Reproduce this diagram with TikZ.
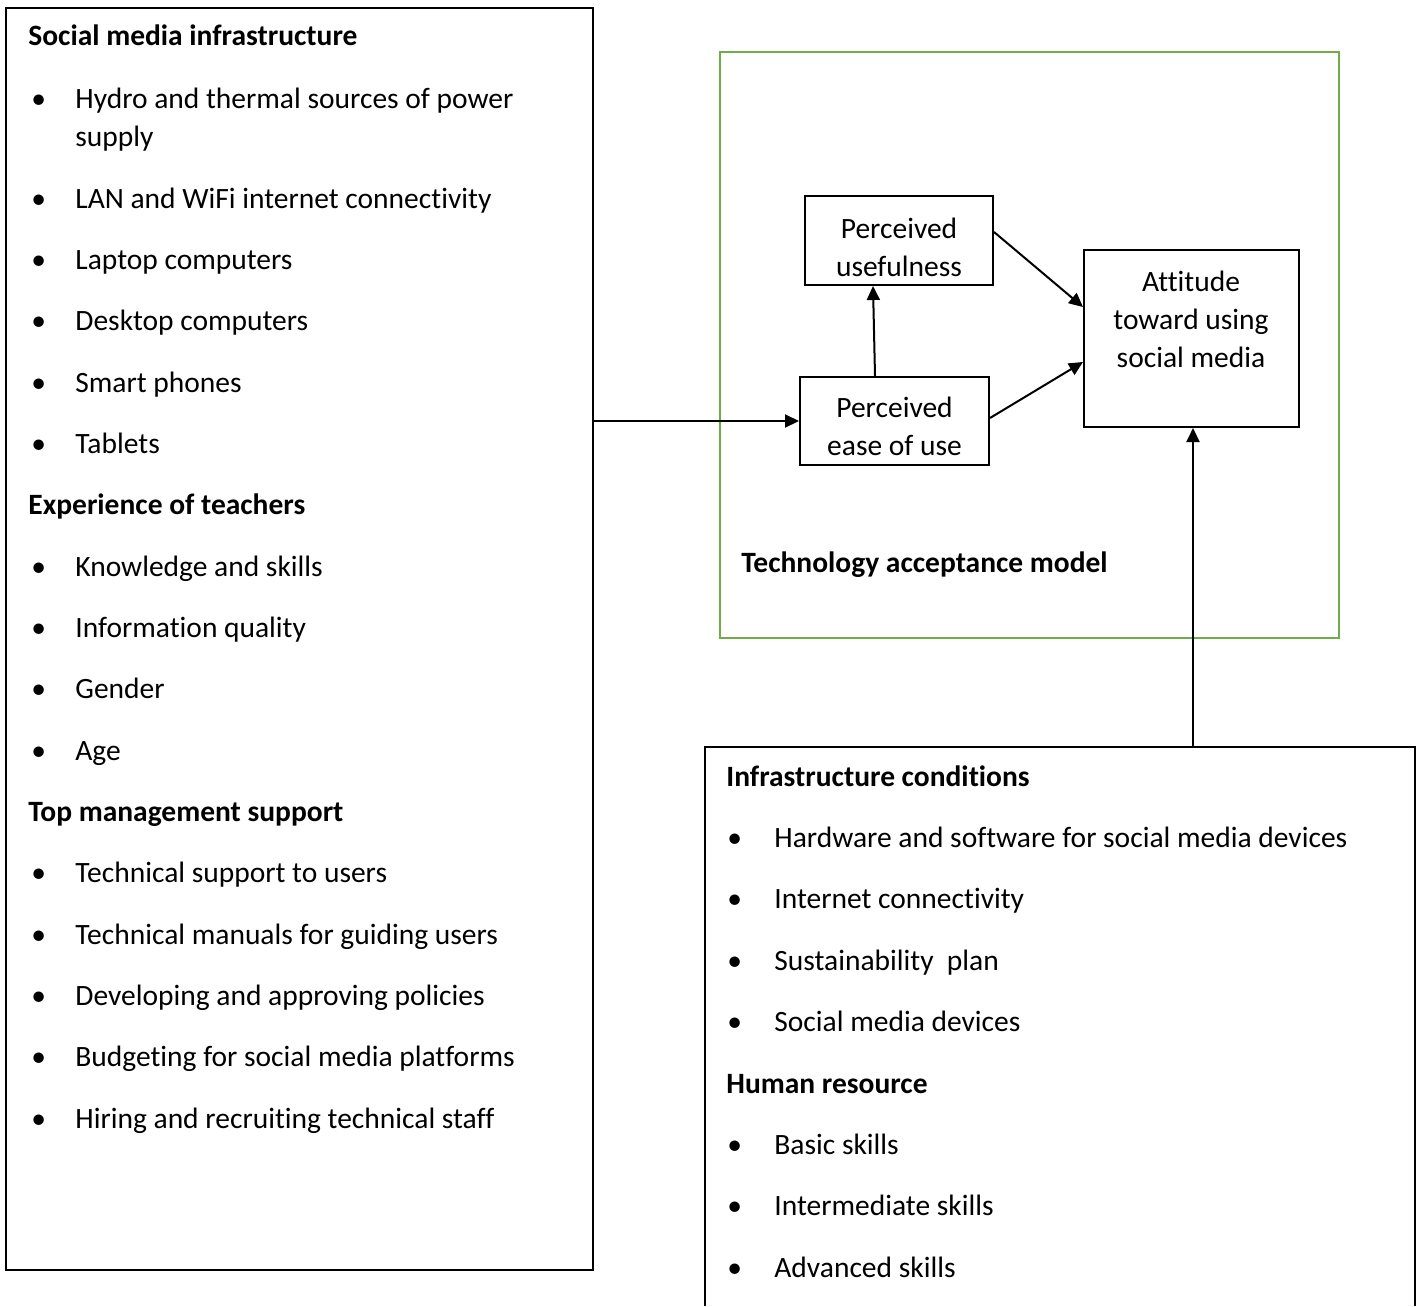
\documentclass[tikz,border=0pt]{standalone}
\usepackage{fontspec}
\setmainfont{Carlito}[Ligatures={NoCommon,NoContextual}]
\usetikzlibrary{arrows.meta}

\definecolor{tamgreen}{HTML}{70AD47}
\newcommand{\bul}[1]{\makebox[#1][l]{\textbullet}}

\begin{document}
\begin{tikzpicture}[x=0.5pt,y=-0.5pt]
	\tikzstyle{every node}+=[inner sep=0pt, font=\fontsize{14.75}{19}\selectfont]
	\tikzstyle{head}=[anchor=base west, font=\fontsize{14.75}{19}\selectfont\bfseries]
	\tikzstyle{item}=[anchor=base west]
	\tikzstyle{frame}=[draw, line width=1pt]
	\tikzstyle{boxtext}=[align=center]
	\tikzstyle{link}=[line width=1pt, -{Triangle[length=7pt,width=6.5pt]}]
	\useasboundingbox (0,0) rectangle (1418,1306);
	% left box
	\node [frame, minimum width=293.5pt, minimum height=631pt] (infra) at (299.5,639) {};
	\node [head] (smi) at (28,46) {Social media infrastructure};
	\node [item] (smi1) at (31,108) {\bul{22pt}Hydro and thermal sources of power};
	\node [item] (smi1b) at (75,146) {supply};
	\node [item] (smi2) at (31,208) {\bul{22pt}LAN and WiFi internet connectivity};
	\node [item] (smi3) at (31,269.3) {\bul{22pt}Laptop computers};
	\node [item] (smi4) at (31,330.7) {\bul{22pt}Desktop computers};
	\node [item] (smi5) at (31,392) {\bul{22pt}Smart phones};
	\node [item] (smi6) at (31,453.3) {\bul{22pt}Tablets};
	\node [head] (exp) at (28,514.7) {Experience of teachers};
	\node [item] (exp1) at (31,576) {\bul{22pt}Knowledge and skills};
	\node [item] (exp2) at (31,637.3) {\bul{22pt}Information quality};
	\node [item] (exp3) at (31,698.7) {\bul{22pt}Gender};
	\node [item] (exp4) at (31,760) {\bul{22pt}Age};
	\node [head] (tms) at (28,821.3) {Top management support};
	\node [item] (tms1) at (31,882.7) {\bul{22pt}Technical support to users};
	\node [item] (tms2) at (31,944) {\bul{22pt}Technical manuals for guiding users};
	\node [item] (tms3) at (31,1005.3) {\bul{22pt}Developing and approving policies};
	\node [item] (tms4) at (31,1066.7) {\bul{22pt}Budgeting for social media platforms};
	\node [item] (tms5) at (31,1128) {\bul{22pt}Hiring and recruiting technical staff};
	% technology acceptance model
	\node [draw=tamgreen, line width=1pt, minimum width=309.5pt, minimum height=293pt] (tam) at (1029.5,345) {};
	\node [head] (tamlabel) at (741,572) {Technology acceptance model};
	\node [frame, minimum width=94pt, minimum height=44.5pt] (pu) at (899,240.5) {};
	\node [boxtext] (putext) at (899,247) {Perceived\\usefulness};
	\node [frame, minimum width=94.5pt, minimum height=44pt] (peou) at (894.5,421) {};
	\node [boxtext] (peoutext) at (894.5,426) {Perceived\\ease of use};
	\node [frame, minimum width=107.5pt, minimum height=88.5pt] (att) at (1191.5,338.5) {};
	\node [boxtext] (atttext) at (1191,319) {Attitude\\toward using\\social media};
	% right box
	\draw [line width=1pt] (705,1306) |- (1415,747) -- (1415,1306);
	\coordinate (condtop) at (1193,747);
	\node [head] (ic) at (726,786) {Infrastructure conditions};
	\node [item] (ic1) at (727,847.4) {\bul{23.5pt}Hardware and software for social media devices};
	\node [item] (ic2) at (727,908.8) {\bul{23.5pt}Internet connectivity};
	\node [item] (ic3) at (727,970.2) {\bul{23.5pt}Sustainability\ \ plan};
	\node [item] (ic4) at (727,1031.6) {\bul{23.5pt}Social media devices};
	\node [head] (hr) at (726,1093) {Human resource};
	\node [item] (hr1) at (727,1154.4) {\bul{23.5pt}Basic skills};
	\node [item] (hr2) at (727,1215.8) {\bul{23.5pt}Intermediate skills};
	\node [item] (hr3) at (727,1277.2) {\bul{23.5pt}Advanced skills};
	% arrows
	\draw [link] (infra.east |- peou.west) -- (peou.west);
	\draw [link] ([xshift=-9.75pt]peou.north) -- ([xshift=-13pt]pu.south);
	\draw [link] ([yshift=4.25pt]pu.east) -- ([yshift=15.75pt]att.west);
	\draw [link] ([yshift=1.5pt]peou.east) -- ([yshift=-11.75pt]att.west);
	\draw [link] (condtop) -- (condtop |- att.south);
\end{tikzpicture}
\end{document}
